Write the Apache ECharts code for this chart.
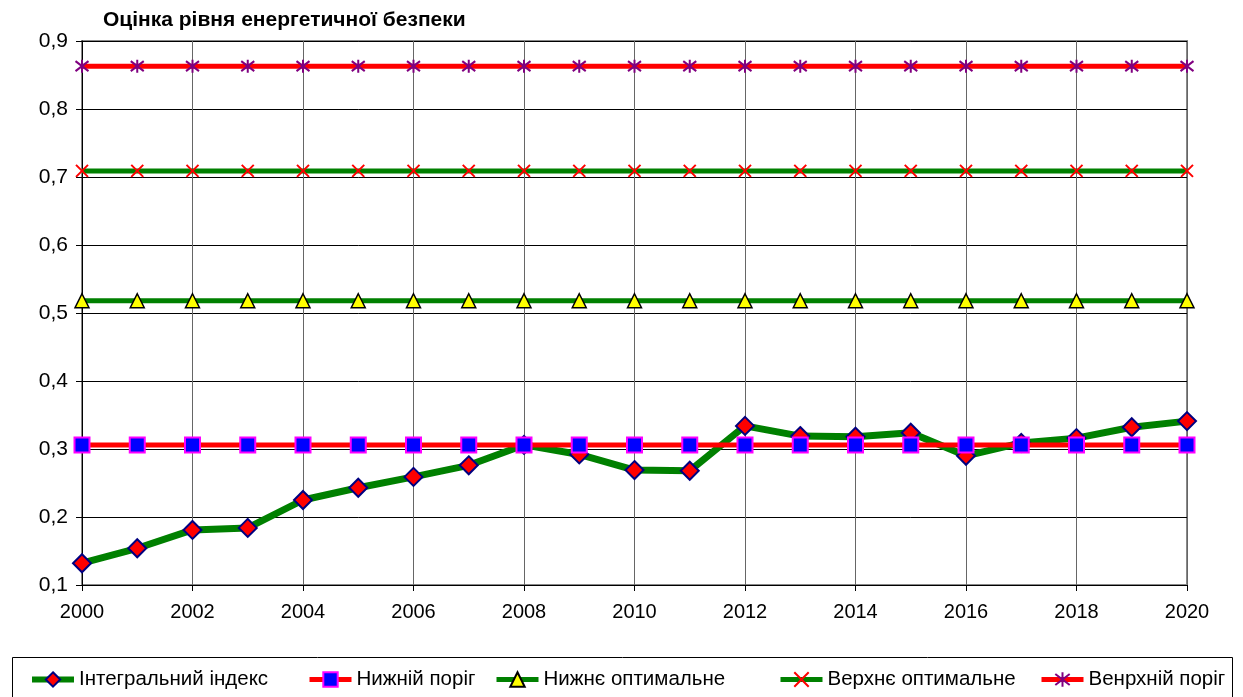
<!DOCTYPE html>
<html>
<head>
<meta charset="utf-8">
<script src="https://cdn.jsdelivr.net/npm/echarts@6/dist/echarts.min.js"></script>
<style>
  html, body { margin: 0; padding: 0; background: #fff; }
  #chart { width: 1243px; height: 697px; }
</style>
</head>
<body>
<div id="chart"></div>
<script>
// Years on the horizontal axis
const years = [2000, 2001, 2002, 2003, 2004, 2005, 2006, 2007, 2008, 2009, 2010,
               2011, 2012, 2013, 2014, 2015, 2016, 2017, 2018, 2019, 2020];

// Integral energy security index by year
const integralIndex = [0.132, 0.154, 0.181, 0.184, 0.225, 0.243, 0.259, 0.276, 0.306, 0.292, 0.269,
                       0.268, 0.334, 0.319, 0.318, 0.324, 0.290, 0.309, 0.316, 0.332, 0.341];

// Constant threshold levels
const lowerThreshold = 0.306;
const lowerOptimal = 0.518;
const upperOptimal = 0.709;
const upperThreshold = 0.863;

const seriesNames = ['Інтегральний індекс', 'Нижній поріг', 'Нижнє оптимальне', 'Верхнє оптимальне', 'Венрхній поріг'];
const titleText = 'Оцінка рівня енергетичної безпеки';

const FONT = '"Liberation Sans", Arial, sans-serif';

const pairs = vals => years.map((y, i) => [y, vals[i]]);
const flat = v => years.map(y => [y, v]);

// Marker outlines
const crossPath = 'path://M0,0L10,10M10,0L0,10';
const starPath = 'path://M0,0L10,10M10,0L0,10M5,-1.5L5,11.5';

const legendLefts = [29, 307, 494, 778, 1039];
const legendLineWidths = [6, 5, 5, 5, 5];

const chart = echarts.init(document.getElementById('chart'), null, { renderer: 'canvas' });

chart.setOption({
  animation: false,
  backgroundColor: '#fff',
  textStyle: { fontFamily: FONT },
  title: {
    text: titleText,
    left: 103,
    top: 10,
    padding: 0,
    textStyle: { fontFamily: FONT, fontSize: 21, fontWeight: 'bold', color: '#000' }
  },
  grid: {
    left: 82, right: 56, top: 41, bottom: 112,
    show: true, borderColor: '#888', borderWidth: 2, backgroundColor: 'transparent'
  },
  legend: seriesNames.map((n, i) => ({
    data: [n],
    left: legendLefts[i],
    top: 669,
    padding: 0,
    itemWidth: 42,
    itemHeight: 18,
    itemGap: 0,
    lineStyle: { width: legendLineWidths[i] },
    textStyle: { fontFamily: FONT, fontSize: 20.5, color: '#000' }
  })),
  graphic: [{
    type: 'rect',
    shape: { x: 12.5, y: 657.5, width: 1220, height: 60 },
    style: { fill: 'none', stroke: '#000', lineWidth: 1 },
    silent: true
  }],
  xAxis: {
    type: 'value',
    min: 2000, max: 2020, interval: 2,
    axisLine: { lineStyle: { color: '#000', width: 1 } },
    axisTick: { show: true, length: 6, lineStyle: { color: '#000' } },
    axisLabel: { fontFamily: FONT, fontSize: 20, color: '#000', margin: 17, formatter: v => String(v) },
    splitLine: { show: true, lineStyle: { color: '#666', width: 1 } }
  },
  yAxis: {
    type: 'value',
    min: 0.1, max: 0.9, interval: 0.1,
    axisLine: { show: true, lineStyle: { color: '#000', width: 1 } },
    axisTick: { show: true, length: 6, lineStyle: { color: '#000' } },
    axisLabel: {
      fontFamily: FONT, fontSize: 21, color: '#000', margin: 14,
      formatter: v => v.toFixed(1).replace('.', ',')
    },
    splitLine: { show: true, lineStyle: { color: '#000', width: 1 } }
  },
  series: [
    {
      name: seriesNames[0], type: 'line', data: pairs(integralIndex),
      lineStyle: { color: '#008000', width: 7 },
      symbol: 'diamond', symbolSize: 18,
      itemStyle: { color: '#ff0000', borderColor: '#000080', borderWidth: 2 },
      z: 2
    },
    {
      name: seriesNames[1], type: 'line', data: flat(lowerThreshold),
      lineStyle: { color: '#ff0000', width: 5 },
      symbol: 'rect', symbolSize: 15,
      itemStyle: { color: '#0000ff', borderColor: '#ff00ff', borderWidth: 2 },
      z: 3
    },
    {
      name: seriesNames[2], type: 'line', data: flat(lowerOptimal),
      lineStyle: { color: '#008000', width: 5 },
      symbol: 'triangle', symbolSize: 14,
      itemStyle: { color: '#ffff00', borderColor: '#000', borderWidth: 1.5 },
      z: 3
    },
    {
      name: seriesNames[3], type: 'line', data: flat(upperOptimal),
      lineStyle: { color: '#008000', width: 5 },
      symbol: crossPath, symbolSize: 12,
      itemStyle: { color: 'none', borderColor: '#ff0000', borderWidth: 2 },
      z: 3
    },
    {
      name: seriesNames[4], type: 'line', data: flat(upperThreshold),
      lineStyle: { color: '#ff0000', width: 5 },
      symbol: starPath, symbolSize: 13,
      itemStyle: { color: 'none', borderColor: '#800080', borderWidth: 2 },
      z: 3
    }
  ]
});
</script>
</body>
</html>
